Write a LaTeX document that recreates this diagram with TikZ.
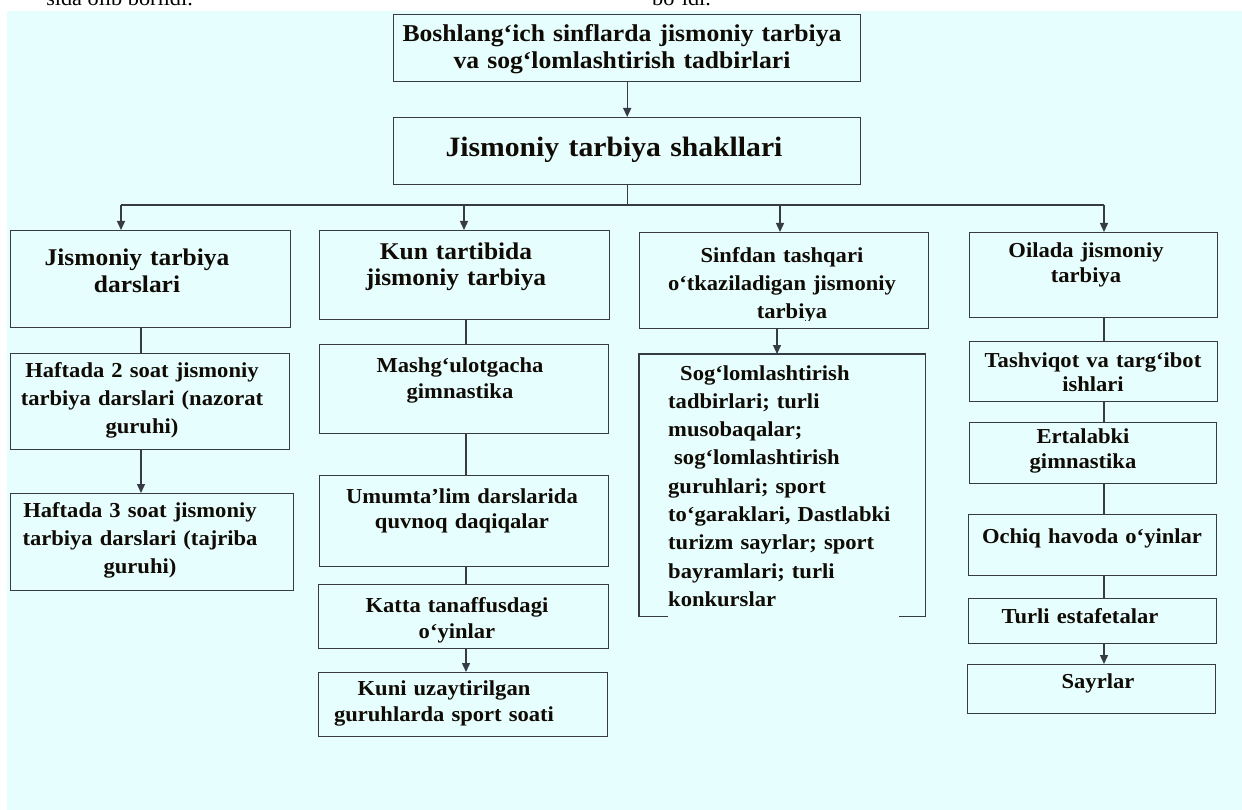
\documentclass[tikz,border=0pt]{standalone}
\usepackage{fontspec}
\setmainfont{Liberation Serif}[FakeStretch=1.06]
\usetikzlibrary{arrows.meta}
\definecolor{bg}{HTML}{E6FEFE}
\definecolor{lc}{HTML}{363B46}
\definecolor{tc}{HTML}{100B04}
\begin{document}
\begin{tikzpicture}[x=1pt,y=-1pt,
  box/.style={draw=lc, line width=1.4pt, inner sep=0pt, anchor=north west},
  hbox/.style={inner sep=0pt, anchor=north west},
  ln/.style={draw=lc, line width=1.4pt},
  arr/.style={ln, -{Triangle[length=9pt,width=8pt]}},
  txt/.style={text=tc, font={\bfseries\fontsize{21.3}{#1}\selectfont}, align=center, text width=520pt, inner sep=0pt, anchor=base},
  txt/.default=28,
  big/.style={font={\bfseries\fontsize{24}{#1}\selectfont}},
  reg/.style={text=black, font={\fontsize{21}{25}\selectfont}, inner sep=0pt}
]
\useasboundingbox (0,0) rectangle (1242,810);
\fill[bg] (7,11) rectangle (1242,810);

% cut-off lines of the page above
\node[reg, anchor=base east] (cut1) at (193,6) {sida olib borildi.};
\node[reg, anchor=base west] (cut2) at (652,6) {bo‘ldi.};

% top
\node[box, minimum width=467pt, minimum height=67pt] (top) at (393,14) {};
\node[txt, font={\bfseries\fontsize{24.2}{27}\selectfont}] (ttop) at (622,42) {Boshlang‘ich sinflarda jismoniy tarbiya\\va sog‘lomlashtirish tadbirlari};
\node[box, minimum width=467pt, minimum height=67pt] (main) at (393,117) {};
\node[txt, font={\bfseries\fontsize{28}{30}\selectfont}] (tmain) at (614,157) {Jismoniy tarbiya shakllari};

% column 1
\node[box, minimum width=280pt, minimum height=97pt] (b11) at (10,230) {};
\node[box, minimum width=279pt, minimum height=96pt] (b12) at (10,353) {};
\node[box, minimum width=283pt, minimum height=97pt] (b13) at (10,493) {};
\node[txt, big=27] (t11) at (137,266) {Jismoniy tarbiya\\darslari};
\node[txt] (t12) at (142,377) {Haftada 2 soat jismoniy\\tarbiya darslari (nazorat\\guruhi)};
\node[txt] (t13) at (140,517) {Haftada 3 soat jismoniy\\tarbiya darslari (tajriba\\guruhi)};

% column 2
\node[box, minimum width=290pt, minimum height=89pt] (b21) at (319,230) {};
\node[box, minimum width=289pt, minimum height=89pt] (b22) at (319,344) {};
\node[box, minimum width=289pt, minimum height=91pt] (b23) at (319,475) {};
\node[box, minimum width=290pt, minimum height=64pt] (b24) at (318,584) {};
\node[box, minimum width=289pt, minimum height=64pt] (b25) at (318,672) {};
\node[txt, big=25.5] (t21) at (456,260) {Kun tartibida\\jismoniy tarbiya};
\node[txt=26] (t22) at (460,372) {Mashg‘ulotgacha\\gimnastika};
\node[txt=25] (t23) at (462,503) {Umumta'lim darslarida\\quvnoq daqiqalar};
\node[txt=26] (t24) at (457,612) {Katta tanaffusdagi\\o‘yinlar};
\node[txt=26] (t25) at (444,695) {Kuni uzaytirilgan\\guruhlarda sport soati};

% column 3
\node[box, minimum width=289pt, minimum height=96pt] (b31) at (639,232) {};
\begin{scope}
\clip (639,232) rectangle (928,320);
\node[txt] (t31) at (782,263) {Sinfdan tashqari\\o‘tkaziladigan jismoniy\\\hspace*{20pt}tarbiya};
\end{scope}
\node[hbox, minimum width=286pt, minimum height=262pt] (b32) at (639,354) {};
\draw[ln] ([xshift=29pt]b32.south west) -- (b32.south west) -- (b32.north west) -- (b32.north east) -- (b32.south east) -- ([xshift=-26pt]b32.south east);
\node[txt=28.3, align=left, text width=280pt, anchor=base west] (t32) at (668,380) {\hspace*{12pt}Sog‘lomlashtirish\\tadbirlari; turli\\musobaqalar;\\\hspace*{6pt}sog‘lomlashtirish\\guruhlari; sport\\to‘garaklari, Dastlabki\\turizm sayrlar; sport\\bayramlari; turli\\konkurslar};

% column 4
\node[box, minimum width=248pt, minimum height=85pt] (b41) at (969,232) {};
\node[box, minimum width=248pt, minimum height=60pt] (b42) at (969,341) {};
\node[box, minimum width=247pt, minimum height=61pt] (b43) at (969,422) {};
\node[box, minimum width=248pt, minimum height=61pt] (b44) at (968,514) {};
\node[box, minimum width=248pt, minimum height=45pt] (b45) at (968,598) {};
\node[box, minimum width=248pt, minimum height=49pt] (b46) at (967,664) {};
\node[txt=25] (t41) at (1086,258) {Oilada jismoniy\\tarbiya};
\node[txt=24] (t42) at (1093,367) {Tashviqot va targ‘ibot\\ishlari};
\node[txt=25] (t43) at (1083,443) {Ertalabki\\gimnastika};
\node[txt] (t44) at (1092,543) {Ochiq havoda o‘yinlar};
\node[txt] (t45) at (1080,623) {Turli estafetalar};
\node[txt] (t46) at (1098,688) {Sayrlar};

% connectors
\coordinate (a1) at (121,205);
\coordinate (a2) at (464,205);
\coordinate (a3) at (780,205);
\coordinate (a4) at (1104,205);
\coordinate (c1) at (141,0);
\coordinate (c2) at (466,0);
\coordinate (c3) at (777,0);
\coordinate (c4) at (1104,0);

\draw[arr] (top.south) -- (main.north);
\draw[ln] (main.south) -- (main.south |- a1);
\draw[ln] (a1) -- (a4);
\draw[arr] (a1) -- (a1 |- b11.north);
\draw[arr] (a2) -- (a2 |- b21.north);
\draw[arr] (a3) -- (a3 |- b31.north);
\draw[arr] (a4) -- (a4 |- b41.north);

\draw[ln] (b11.south -| c1) -- (b12.north -| c1);
\draw[arr] (b12.south -| c1) -- (b13.north -| c1);

\draw[ln] (b21.south -| c2) -- (b22.north -| c2);
\draw[ln] (b22.south -| c2) -- (b23.north -| c2);
\draw[ln] (b23.south -| c2) -- (b24.north -| c2);
\draw[arr] (b24.south -| c2) -- (b25.north -| c2);

\draw[arr] (b31.south -| c3) -- (b32.north -| c3);

\draw[ln] (b41.south -| c4) -- (b42.north -| c4);
\draw[ln] (b42.south -| c4) -- (b43.north -| c4);
\draw[ln] (b43.south -| c4) -- (b44.north -| c4);
\draw[ln] (b44.south -| c4) -- (b45.north -| c4);
\draw[arr] (b45.south -| c4) -- (b46.north -| c4);
\end{tikzpicture}
\end{document}
